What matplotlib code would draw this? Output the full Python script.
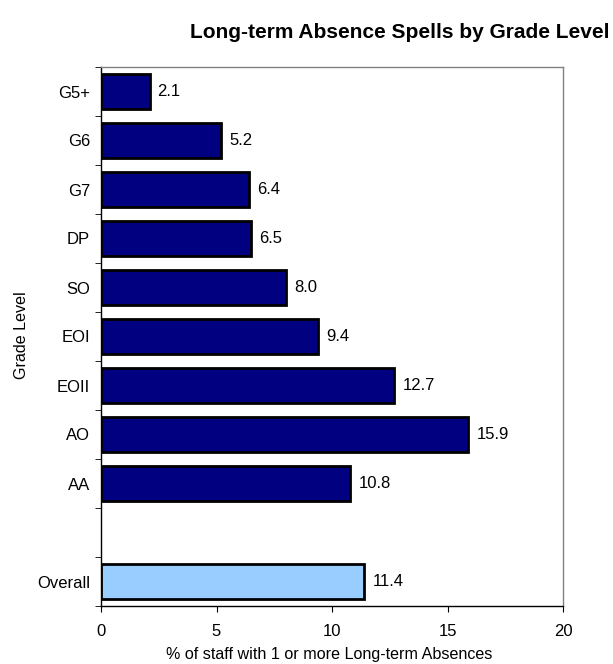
import matplotlib
matplotlib.use("Agg")
import matplotlib.pyplot as plt
import numpy as np

plt.rcParams['font.family'] = ['Liberation Sans', 'DejaVu Sans']

categories = ["G5+", "G6", "G7", "DP", "SO", "EOI", "EOII", "AO", "AA", "", "Overall"]
values = [2.1, 5.2, 6.4, 6.5, 8.0, 9.4, 12.7, 15.9, 10.8, None, 11.4]
x_ticks = [0, 5, 10, 15, 20]

W, H = 613, 664
fig = plt.figure(figsize=(W / 100, H / 100), dpi=100)
ax = fig.add_axes([101 / W, 1 - 606 / H, (563 - 101) / W, (606 - 67) / H])

n = len(categories)
pos = np.arange(n)
for i, (cat, v) in enumerate(zip(categories, values)):
    if v is None:
        continue
    color = "#99CCFF" if cat == "Overall" else "#000080"
    ax.barh(i, v, height=0.73, color=color, edgecolor="black", linewidth=2)
    ax.text(v + 0.35, i, f"{v:.1f}", va="center", ha="left", fontsize=12)

ax.set_ylim(n - 0.5, -0.5)
ax.set_xlim(0, 20)
ax.set_yticks(pos)
ax.set_yticklabels(categories, fontsize=12)
ax.tick_params(axis="y", length=0, pad=8)
ax.set_yticks(np.arange(-0.5, n, 1.0), minor=True)
ax.tick_params(axis="y", which="minor", length=4, direction="out", color="black")
ax.set_xticks(x_ticks)
ax.set_xticklabels([str(t) for t in x_ticks], fontsize=12)
ax.tick_params(axis="x", length=4, direction="out", pad=9)

for s in ["left", "bottom"]:
    ax.spines[s].set_color("black")
    ax.spines[s].set_linewidth(1)
for s in ["top", "right"]:
    ax.spines[s].set_color("#808080")
    ax.spines[s].set_linewidth(1)

fig.text(329 / W, 1 - 655 / H, "% of staff with 1 or more Long-term Absences",
         ha="center", va="center", fontsize=11.6)
fig.text(22 / W, 1 - 335 / H, "Grade Level", rotation=90,
         ha="center", va="center", fontsize=11.6)
fig.text(400 / W, 1 - 32 / H, "Long-term Absence Spells by Grade Level",
         ha="center", va="center", fontsize=15, fontweight="bold")

fig.savefig("out.png", dpi=100)
